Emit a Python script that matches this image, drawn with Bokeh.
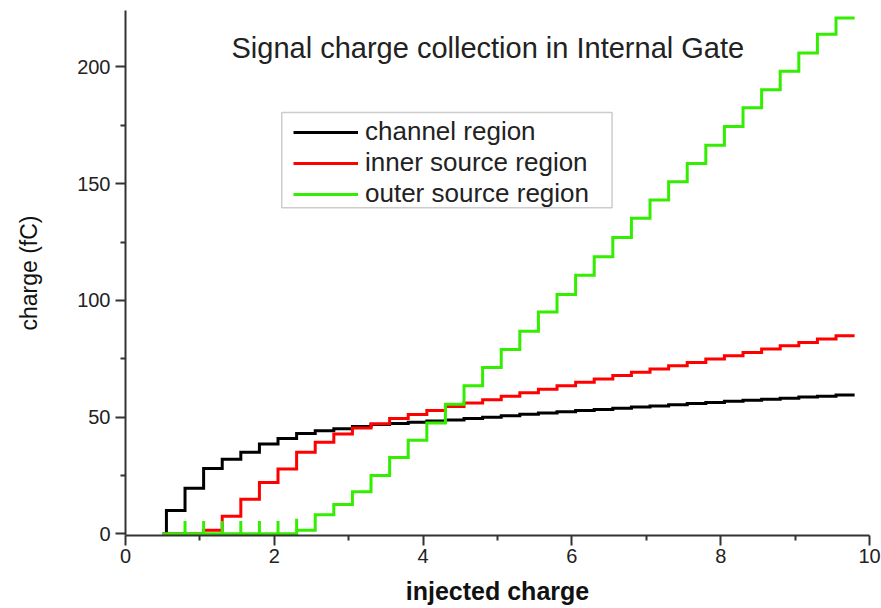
from bokeh.plotting import figure
from bokeh.models import Label, Range1d, FixedTicker, Legend, BoxAnnotation
from bokeh.embed import file_html
from bokeh.resources import INLINE

# Injected charge at which each collection step occurs
step_x = [0.55, 0.80, 1.05, 1.30, 1.55, 1.80, 2.05, 2.30, 2.55, 2.80,
          3.05, 3.30, 3.55, 3.80, 4.05, 4.30, 4.55, 4.80, 5.05, 5.30,
          5.55, 5.80, 6.05, 6.30, 6.55, 6.80, 7.05, 7.30, 7.55, 7.80,
          8.05, 8.30, 8.55, 8.80, 9.05, 9.30, 9.55]
x_first = 0.5
x_last = 9.8

# Collected signal charge (fC) after each step
channel = [10, 19.5, 28, 32, 35, 38.5, 40.8, 43, 44.2, 45,
           46, 46.8, 47.3, 47.8, 48.3, 48.8, 49.4, 50.0, 50.6, 51.2,
           51.8, 52.3, 52.8, 53.3, 53.8, 54.3, 54.8, 55.3, 55.8, 56.3,
           56.8, 57.2, 57.7, 58.1, 58.6, 59.0, 59.5]
inner_source = [0, 0, 1.5, 7.5, 14.8, 22, 27.8, 35, 39.2, 42.8,
                45.3, 47.2, 49.4, 51.1, 52.8, 54.6, 56.1, 57.5, 59.0, 60.5,
                62.0, 63.5, 64.9, 66.3, 67.8, 69.2, 70.6, 72.0, 73.4, 74.9,
                76.3, 77.7, 79.2, 80.6, 82.0, 83.5, 84.9]
outer_source = [0, 0, 0, 0, 0, 0, 0, 1.5, 8.2, 12.6,
                18, 25, 32.7, 40.1, 47.5, 55.5, 63.4, 71.3, 79, 86.8,
                95, 102.5, 110.8, 118.7, 127, 135.2, 143, 150.8, 158.7, 166.5,
                174.5, 182.5, 190.3, 198.2, 206, 214, 221]
# Transient peaks of the outer source charge at the early steps
outer_peak = [0, 5.5, 5.5, 5.5, 5.5, 5.5, 5.5, 6.5, 0, 0,
              0, 0, 0, 0, 0, 0, 0, 0, 0, 0,
              0, 0, 0, 0, 0, 0, 0, 0, 0, 0,
              0, 0, 0, 0, 0, 0, 0]

x_ticks = [0, 2, 4, 6, 8, 10]
y_ticks = [0, 50, 100, 150, 200]

FONT = "Liberation Sans"


def staircase(xs, ys, peaks=None):
    """Build the vertex list of a step trace starting from zero."""
    px, py = [x_first], [0.0]
    prev = 0.0
    for i, (x, y) in enumerate(zip(xs, ys)):
        px.append(x)
        py.append(prev)
        if peaks is not None and peaks[i] > 0:
            px.append(x)
            py.append(peaks[i])
        px.append(x)
        py.append(y)
        prev = y
    px.append(x_last)
    py.append(prev)
    return px, py


p = figure(width=881, height=608, output_backend="svg", toolbar_location=None,
           x_range=Range1d(0, 10), y_range=Range1d(-0.7, 224.2),
           min_border_left=125, min_border_right=12,
           min_border_top=10, min_border_bottom=73)
p.background_fill_color = "white"
p.border_fill_color = "white"
p.outline_line_color = None
p.xgrid.visible = False
p.ygrid.visible = False

cx, cy = staircase(step_x, channel)
ix, iy = staircase(step_x, inner_source)
ox, oy = staircase(step_x, outer_source, outer_peak)

r1 = p.line(cx, cy, line_color="#000000", line_width=3, line_join="miter")
r2 = p.line(ix, iy, line_color="#ff0000", line_width=3, line_join="miter")
r3 = p.line(ox, oy, line_color="#33ee00", line_width=3, line_join="miter")

# Framed legend box
p.add_layout(BoxAnnotation(left=2.10, right=6.54, top=180.5, bottom=139.7,
                           fill_color="white", fill_alpha=1.0,
                           line_color="#555555", line_width=1.5))

legend = Legend(items=[("channel region", [r1]),
                       ("inner source region", [r2]),
                       ("outer source region", [r3])],
                location=(168, 326))
legend.label_text_font = FONT
legend.label_text_font_size = "26px"
legend.label_text_color = "#222222"
legend.label_height = 20
legend.glyph_height = 20
legend.glyph_width = 65
legend.label_standoff = 7
legend.spacing = -1
legend.padding = 0
legend.margin = 0
legend.border_line_color = None
legend.background_fill_alpha = 0.0
p.add_layout(legend)

for ax in (p.xaxis[0], p.yaxis[0]):
    ax.axis_line_color = "#333333"
    ax.axis_line_width = 2
    ax.major_tick_line_color = "#333333"
    ax.minor_tick_line_color = "#333333"
    ax.major_tick_line_width = 2
    ax.minor_tick_line_width = 2
    ax.major_tick_out = 10
    ax.major_tick_in = 0
    ax.minor_tick_out = 5
    ax.minor_tick_in = 0
    ax.major_label_text_font = FONT
    ax.major_label_text_font_size = "20px"
    ax.major_label_text_color = "#222222"
    ax.axis_label_text_color = "#111111"
    ax.axis_label_text_font = FONT

p.xaxis.ticker = FixedTicker(ticks=x_ticks, minor_ticks=[1, 3, 5, 7, 9])
p.yaxis.ticker = FixedTicker(ticks=y_ticks, minor_ticks=[25, 75, 125, 175])
p.xaxis.major_label_standoff = 3
p.yaxis.major_label_standoff = 5

p.xaxis.axis_label = "injected charge"
p.xaxis.axis_label_text_font_style = "bold"
p.xaxis.axis_label_text_font_size = "25px"
p.xaxis.axis_label_standoff = 11

p.yaxis.axis_label = "charge (fC)"
p.yaxis.axis_label_text_font_style = "normal"
p.yaxis.axis_label_text_font_size = "23px"
p.yaxis.axis_label_standoff = 32

p.add_layout(Label(x=4.87, y=208.1, text="Signal charge collection in Internal Gate",
                   text_align="center", text_baseline="middle",
                   text_font=FONT, text_font_size="29px", text_color="#222222"))

open("out.html", "w").write(file_html(p, INLINE))
